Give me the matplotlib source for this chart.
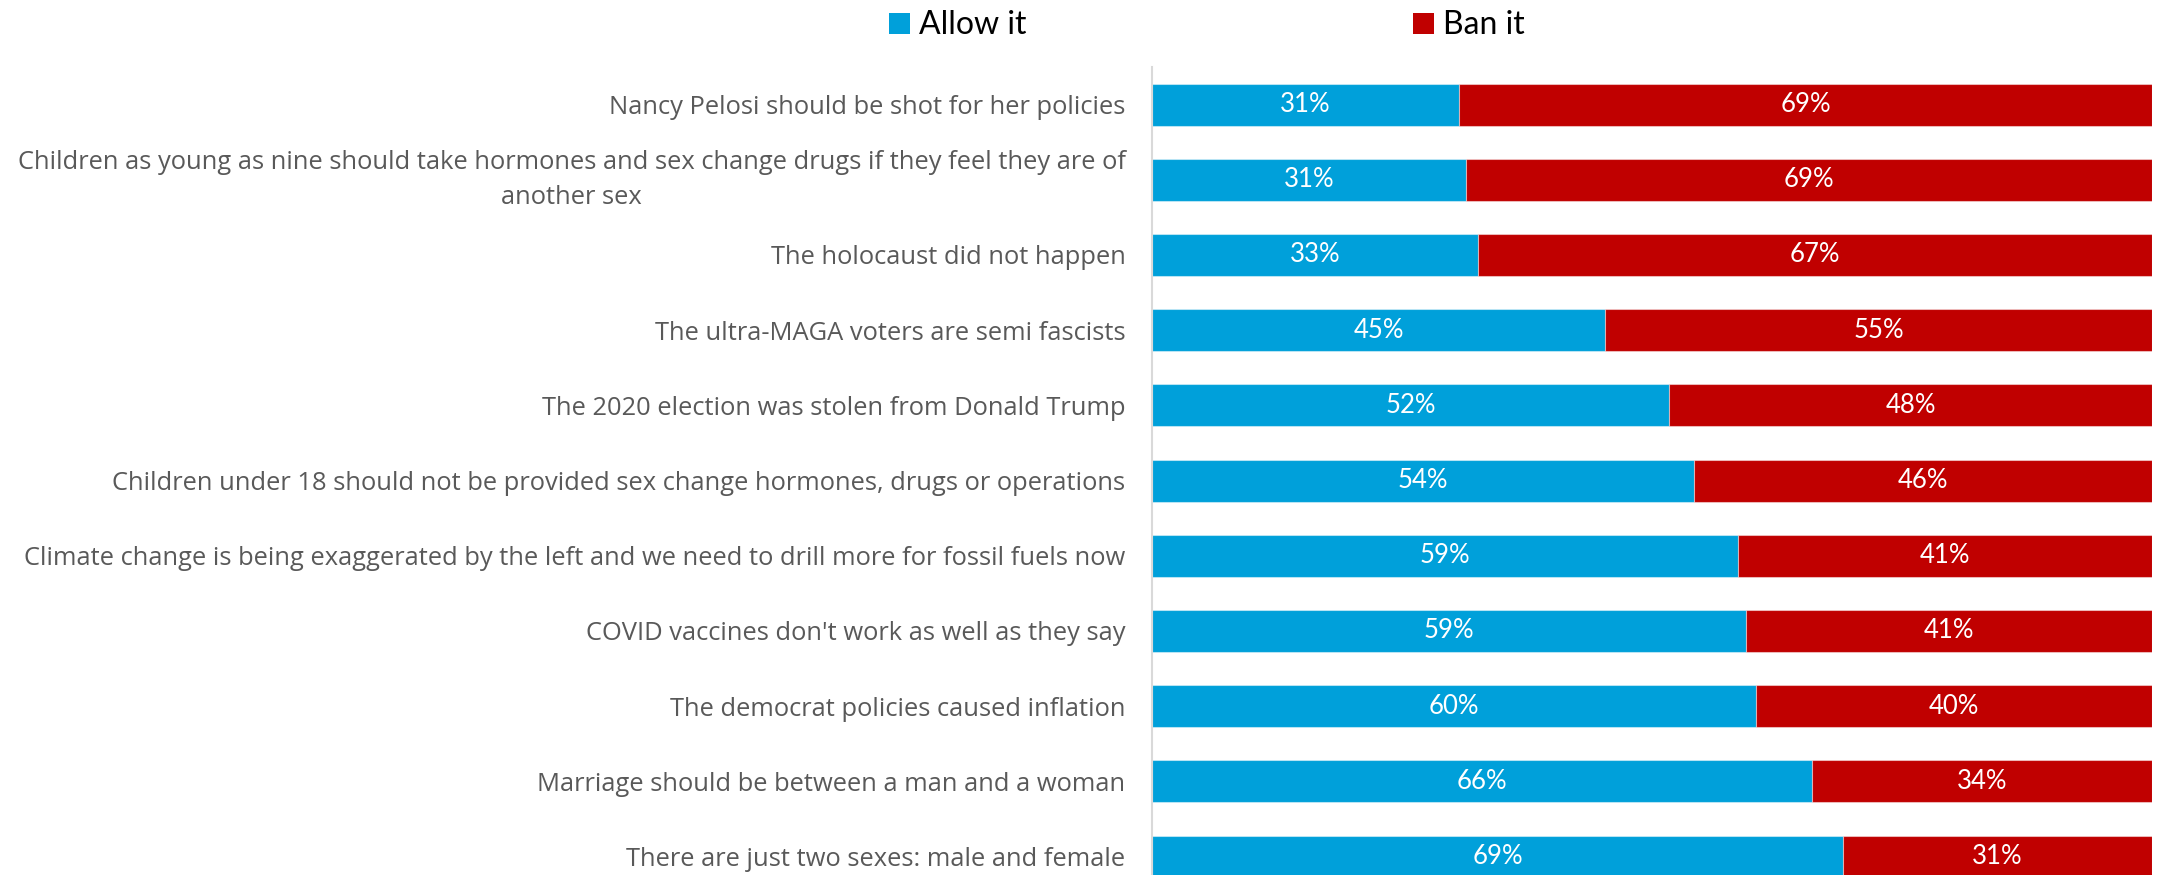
import matplotlib
matplotlib.use("Agg")
import matplotlib.pyplot as plt
from matplotlib.patches import Patch

categories = [
    "Nancy Pelosi should be shot for her policies",
    "Children as young as nine should take hormones and sex change drugs if they feel they are of\nanother sex",
    "The holocaust did not happen",
    "The ultra-MAGA voters are semi fascists",
    "The 2020 election was stolen from Donald Trump",
    "Children under 18 should not be provided sex change hormones, drugs or operations",
    "Climate change is being exaggerated by the left and we need to drill more for fossil fuels now",
    "COVID vaccines don't work as well as they say",
    "The democrat policies caused inflation",
    "Marriage should be between a man and a woman",
    "There are just two sexes: male and female",
]
allow_it = [30.7, 31.4, 32.6, 45.3, 51.7, 54.2, 58.6, 59.4, 60.4, 66.0, 69.1]
ban_it = [100 - a for a in allow_it]
series_names = ["Allow it", "Ban it"]

BLUE = "#00A0DA"
RED = "#C00000"
plt.rcParams["font.family"] = ["Lato", "DejaVu Sans"]
LABEL_FONT = ["Open Sans", "DejaVu Sans"]

W, H = 2159, 875
fig = plt.figure(figsize=(W / 100, H / 100), dpi=100)
left_px, right_px = 1152, 2152
top_px = 67
pitch = 75.2
n = len(categories)
ax_h = n * pitch
ax = fig.add_axes([left_px / W, (H - top_px - ax_h) / H, (right_px - left_px) / W, ax_h / H])

y = list(range(n))
bh = 42 / pitch
edge = (1, 1, 1, 0.45)
b1 = ax.barh(y, allow_it, height=bh, color=BLUE, edgecolor=edge, linewidth=0.8)
b2 = ax.barh(y, ban_it, left=allow_it, height=bh, color=RED, edgecolor=edge, linewidth=0.8)

for bars, vals in ((b1, allow_it), (b2, ban_it)):
    for rect, v in zip(bars, vals):
        ax.text(rect.get_x() + rect.get_width() / 2, rect.get_y() + rect.get_height() / 2,
                f"{round(v):d}%", ha="center", va="center", color="white", fontsize=18.5)

ax.set_xlim(0, 100)
ax.set_ylim(n - 0.5, -0.5)
ax.set_yticks(y)
ax.set_yticklabels(categories, fontsize=18.4, color="#595959", linespacing=1.55,
                   multialignment="center", family=LABEL_FONT)
for lbl in ax.get_yticklabels():
    if "\n" in lbl.get_text():
        lbl.set_va("center")
ax.tick_params(axis="y", length=0, pad=19)
ax.set_xticks([])
for s in ("top", "right", "bottom"):
    ax.spines[s].set_visible(False)
ax.spines["left"].set_color("#D9D9D9")
ax.spines["left"].set_linewidth(1.5)

handles = [Patch(facecolor=BLUE), Patch(facecolor=RED)]
fig.legend(handles, series_names, loc="center", bbox_to_anchor=(1206.5 / W, 1 - 25.5 / H),
           ncol=2, frameon=False, fontsize=23, handlelength=0.66, handleheight=0.66,
           handletextpad=0.28, columnspacing=12.1)

fig.savefig("out.png", dpi=100)
